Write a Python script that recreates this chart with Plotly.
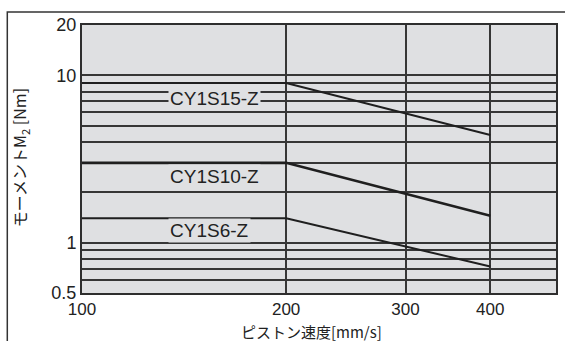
import numpy as np
import plotly.graph_objects as go

# Piston speed [mm/s] break points for each allowable-moment curve
speed = [100, 200, 400]

# Allowable moment M2 [Nm] per model
cy1s15_moment = [9.0, 9.0, 4.4]
cy1s10_moment = [3.0, 3.0, 1.45]
cy1s6_moment = [1.4, 1.4, 0.72]

models = ["CY1S15-Z", "CY1S10-Z", "CY1S6-Z"]
label_pos_y = [7.3, 2.47, 1.19]
label_pos_x = 134.0

# Axis ticks / grid
x_ticks = [100, 200, 300, 400]
x_labels = ["100", "200", "300", "400"]
y_ticks = [0.5, 1, 10, 20]
y_labels = ["0.5", "1", "10", "20"]
y_minor = [0.6, 0.7, 0.8, 0.9, 2, 3, 4, 5, 6, 7, 8, 9]

LINE = "#1f1f1f"
GRID = "#363636"
TXT = "#222222"
LATIN = "Liberation Sans, Arial, sans-serif"
CJK = "Noto Sans CJK JP, sans-serif"

fig = go.Figure()
for vals, w in [(cy1s15_moment, 2), (cy1s10_moment, 2.6), (cy1s6_moment, 2)]:
    fig.add_trace(go.Scatter(
        x=speed, y=vals, mode="lines",
        line=dict(color=LINE, width=w),
        showlegend=False, hoverinfo="skip",
    ))

for name, yv in zip(models, label_pos_y):
    fig.add_annotation(
        x=np.log10(label_pos_x), y=np.log10(yv), xref="x", yref="y",
        text=name, showarrow=False, xanchor="left", yanchor="middle",
        font=dict(family=LATIN, size=19, color=TXT),
        bgcolor="#dfe0e2", borderpad=1,
    )

fig.add_annotation(
    x=0.485, y=-0.142, xref="paper", yref="paper",
    text="ピストン速度[mm/s]", showarrow=False,
    xanchor="center", yanchor="middle",
    font=dict(family=CJK, size=15, color=TXT),
)
fig.add_annotation(
    x=-0.13, y=0.504, xref="paper", yref="paper",
    text="モーメントM<sub>2</sub> [Nm]", showarrow=False, textangle=-90,
    xanchor="center", yanchor="middle",
    font=dict(family=CJK, size=16, color=TXT),
)

# Outer frame around the chart panel
fig.add_shape(
    type="rect", xref="paper", yref="paper",
    x0=-0.1576, y0=-0.3, x1=1.5, y1=1.0485,
    line=dict(color="#333333", width=1.5), layer="above",
)

fig.update_xaxes(
    type="log", range=[np.log10(100), np.log10(500)],
    tickmode="array", tickvals=x_ticks, ticktext=x_labels,
    showgrid=True, gridcolor=GRID, gridwidth=1.6,
    showline=True, mirror=True, linecolor="#2e2e2e", linewidth=2,
    ticks="", zeroline=False,
    tickfont=dict(family=LATIN, size=17, color=TXT),
)
fig.update_yaxes(
    type="log", range=[np.log10(0.5), np.log10(20)],
    tickmode="array", tickvals=y_ticks, ticktext=y_labels,
    showgrid=True, gridcolor=GRID, gridwidth=1.6,
    minor=dict(tickmode="array", tickvals=y_minor, showgrid=True,
               gridcolor=GRID, gridwidth=1.6, ticks=""),
    showline=True, mirror=True, linecolor="#2e2e2e", linewidth=2,
    ticks="", zeroline=False,
    tickfont=dict(family=LATIN, size=18, color=TXT),
)

fig.update_layout(
    width=565, height=341,
    margin=dict(l=82, r=7, t=25, b=48),
    plot_bgcolor="#dfe0e2", paper_bgcolor="white",
)

fig.write_html("out.html")
